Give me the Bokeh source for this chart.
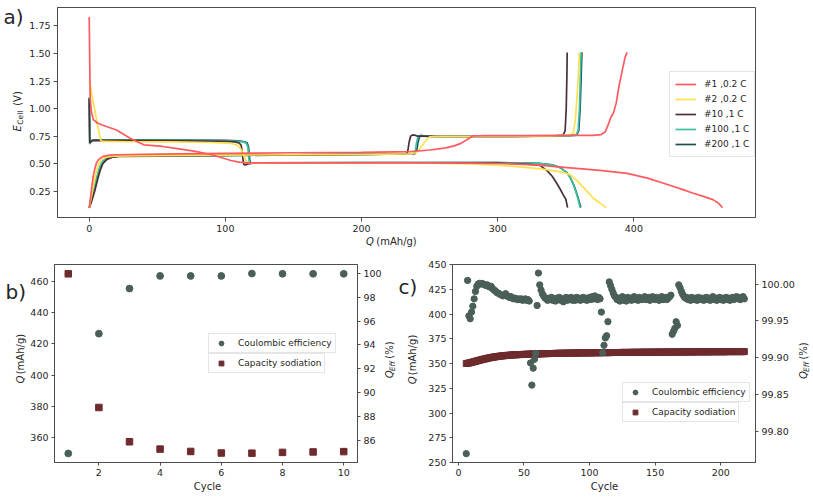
import math
from bokeh.plotting import figure
from bokeh.models import (Range1d, LinearAxis, FixedTicker, Legend, LegendItem, Label,
                          NumeralTickFormatter)
from bokeh.layouts import column, row
from bokeh.embed import file_html
from bokeh.resources import INLINE

# ---------------- data: panel a (potential profiles) ----------------
dis1_Q = [0, 0.3, 0.7, 1.5, 3, 6, 10, 20, 30, 40, 54, 66, 78, 90, 98, 104, 110, 116, 130, 200,
          280, 310, 330, 351, 375, 395, 410, 424, 435, 443, 451, 458, 462, 465]
dis1_E = [1.83, 1.5, 1.1, 0.98, 0.90, 0.87, 0.85, 0.806, 0.732, 0.672, 0.657, 0.635, 0.612, 0.582,
          0.553, 0.53, 0.515, 0.508, 0.508, 0.508, 0.506, 0.50, 0.487, 0.465, 0.44, 0.413, 0.37,
          0.315, 0.27, 0.235, 0.205, 0.175, 0.145, 0.103]
ch1_Q = [0, 1, 2, 3, 4, 5.3, 7, 10.2, 15, 20, 50, 100, 150, 200, 236, 250, 261, 268, 273, 277,
         281.5, 290, 320, 350, 370, 376, 379, 381, 383, 385, 387, 389, 391, 393.5, 395]
ch1_E = [0.10, 0.20, 0.30, 0.39, 0.45, 0.507, 0.54, 0.567, 0.578, 0.582, 0.587, 0.595, 0.60, 0.604,
         0.61, 0.625, 0.642, 0.662, 0.685, 0.715, 0.752, 0.755, 0.755, 0.757, 0.758, 0.765, 0.79,
         0.85, 0.92, 0.96, 1.05, 1.2, 1.32, 1.465, 1.51]

dis2_Q = [0, 1, 2, 4.1, 6, 7.8, 8.5, 10, 30, 60, 90, 100, 105, 108, 110, 112, 114, 115.5, 117, 150,
          200, 250, 280, 302, 320, 336, 347, 353, 358, 362, 366, 370, 375, 379.6]
dis2_E = [1.25, 1.2, 1.12, 0.99, 0.85, 0.75, 0.712, 0.703, 0.70, 0.698, 0.693, 0.688, 0.682, 0.672,
          0.657, 0.62, 0.56, 0.52, 0.509, 0.509, 0.508, 0.505, 0.498, 0.486, 0.467, 0.447, 0.425,
          0.402, 0.35, 0.297, 0.245, 0.19, 0.145, 0.103]
ch2_Q = [0, 1.5, 3, 5, 7, 9, 12, 18, 30, 100, 200, 236, 240, 243, 246, 248, 250, 255, 300, 340,
         352, 355.5, 357, 358.2, 359.2, 360]
ch2_E = [0.10, 0.2, 0.3, 0.42, 0.5, 0.54, 0.56, 0.57, 0.572, 0.578, 0.585, 0.59, 0.60, 0.64, 0.69,
         0.72, 0.745, 0.748, 0.748, 0.752, 0.76, 0.78, 0.9, 1.1, 1.3, 1.51]

dis10_Q = [0, 0.2, 0.4, 1.5, 3, 50, 100, 107, 110, 111.5, 112.5, 113, 113.5, 114.5, 116, 120, 200,
           300, 320, 331, 336, 340, 343, 346, 348, 350, 351.3]
dis10_E = [1.09, 0.9, 0.69, 0.705, 0.712, 0.71, 0.703, 0.698, 0.69, 0.67, 0.6, 0.53, 0.495, 0.49,
           0.497, 0.505, 0.509, 0.506, 0.498, 0.486, 0.44, 0.387, 0.33, 0.267, 0.22, 0.178, 0.103]
ch10_Q = [0, 2, 4, 6, 8, 10, 13, 17, 22, 50, 100, 150, 200, 233, 234, 235, 236, 237.5, 239.5, 241,
          260, 300, 340, 348, 349.5, 350.3, 350.8, 351]
ch10_E = [0.1, 0.17, 0.25, 0.35, 0.44, 0.5, 0.54, 0.56, 0.568, 0.57, 0.575, 0.58, 0.585, 0.59, 0.62,
          0.7, 0.75, 0.762, 0.758, 0.75, 0.748, 0.748, 0.75, 0.76, 0.8, 1.0, 1.3, 1.51]

dis100_Q = [0, 0.2, 0.4, 1.5, 3, 50, 100, 110, 113.5, 115.5, 116.5, 117, 117.5, 118.5, 122, 200, 300,
            330, 340, 346, 351, 353.5, 355.5, 357.3, 359, 360.5]
dis100_E = [1.1, 0.9, 0.68, 0.708, 0.715, 0.714, 0.709, 0.704, 0.697, 0.683, 0.65, 0.58, 0.52, 0.507,
            0.508, 0.51, 0.51, 0.505, 0.49, 0.465, 0.417, 0.37, 0.312, 0.25, 0.178, 0.103]
ch100_Q = [0, 2, 4, 6, 8, 10, 13, 17, 22, 50, 100, 150, 200, 238, 239.5, 240.5, 241.5, 243, 245, 248,
           300, 350, 357.5, 359, 360, 360.7, 361.2]
ch100_E = [0.1, 0.2, 0.3, 0.4, 0.48, 0.525, 0.553, 0.566, 0.57, 0.572, 0.576, 0.58, 0.585, 0.59, 0.62,
           0.7, 0.745, 0.757, 0.752, 0.748, 0.748, 0.752, 0.76, 0.8, 1.0, 1.3, 1.51]

dis200_Q = [0, 0.2, 0.4, 1.5, 3, 50, 100, 110, 114, 116, 117, 117.5, 118, 119, 122, 200, 300, 330,
            340, 346, 351, 353.5, 355.7, 357.5, 359.3, 361]
dis200_E = [1.1, 0.9, 0.68, 0.708, 0.716, 0.716, 0.712, 0.707, 0.7, 0.688, 0.65, 0.58, 0.52, 0.507,
            0.508, 0.51, 0.51, 0.505, 0.49, 0.465, 0.417, 0.37, 0.312, 0.25, 0.178, 0.103]
ch200_Q = [0, 2, 4, 6, 8, 10, 13, 17, 22, 50, 100, 150, 200, 239, 240.5, 241.5, 242.5, 244, 246, 249,
           300, 350, 358, 359.5, 360.5, 361.3, 361.8]
ch200_E = [0.1, 0.19, 0.29, 0.39, 0.47, 0.52, 0.55, 0.565, 0.57, 0.572, 0.576, 0.58, 0.585, 0.59, 0.62,
           0.7, 0.745, 0.757, 0.752, 0.748, 0.748, 0.752, 0.76, 0.8, 1.0, 1.3, 1.51]

cycle_labels = ["#1 ,0.2 C", "#2 ,0.2 C", "#10 ,1 C", "#100 ,1 C", "#200 ,1 C"]
cycle_colors = ["#FF5A5F", "#FFE04F", "#4B3034", "#3DC0A2", "#1A4D4F"]

a_xticks = [0, 100, 200, 300, 400]
a_yticks = [0.25, 0.50, 0.75, 1.00, 1.25, 1.50, 1.75]

# ---------------- data: panel b (first 10 cycles) ----------------
b_cycle = [1, 2, 3, 4, 5, 6, 7, 8, 9, 10]
b_capacity = [464.8, 379.4, 357.5, 352.8, 351.3, 350.3, 350.2, 350.7, 351.0, 351.2]
b_ce = [84.88, 94.95, 98.74, 99.80, 99.80, 99.80, 100.0, 99.98, 99.98, 99.98]
b_xticks = [2, 4, 6, 8, 10]
b_yticks = [360, 380, 400, 420, 440, 460]
b_y2ticks = [86, 88, 90, 92, 94, 96, 98, 100]

# ---------------- data: panel c (long cycling) ----------------
c_cycle = list(range(6, 219))
c_ce = [
    99.770, 100.005, 99.957, 99.953, 99.962, 99.970, 99.980, 99.990, 99.997, 100.000,
    100.001, 100.000, 100.001, 100.000, 99.999, 99.998, 99.999, 99.997, 99.996, 99.997,
    99.994, 99.992, 99.991, 99.989, 99.988, 99.987, 99.986, 99.985, 99.984, 99.985,
    99.987, 99.984, 99.983, 99.982, 99.983, 99.981, 99.980, 99.981, 99.980, 99.979,
    99.980, 99.979, 99.980, 99.978, 99.979, 99.980, 99.978, 99.979, 99.977, 99.893,
    99.863, 99.886, 99.898, 99.906, 99.971, 100.015, 99.999, 99.992, 99.987, 99.984,
    99.981, 99.980, 99.978, 99.981, 99.979, 99.982, 99.978, 99.980, 99.977, 99.981,
    99.979, 99.982, 99.978, 99.980, 99.976, 99.979, 99.982, 99.978, 99.981, 99.979,
    99.982, 99.978, 99.980, 99.978, 99.982, 99.979, 99.981, 99.978, 99.980, 99.982,
    99.979, 99.981, 99.978, 99.980, 99.982, 99.979, 99.983, 99.980, 99.984, 99.981,
    99.979, 99.982, 99.980, 99.962, 99.907, 99.917, 99.927, 99.930, 99.949, 100.003,
    99.998, 99.993, 99.988, 99.984, 99.982, 99.979, 99.981, 99.977, 99.980, 99.983,
    99.978, 99.981, 99.977, 99.982, 99.979, 99.981, 99.978, 99.980, 99.983, 99.979,
    99.981, 99.978, 99.982, 99.980, 99.979, 99.981, 99.983, 99.979, 99.980, 99.982,
    99.978, 99.981, 99.983, 99.980, 99.979, 99.982, 99.980, 99.978, 99.981, 99.983,
    99.979, 99.980, 99.982, 99.979, 99.981, 99.983, 99.985, 99.932, 99.936, 99.940,
    99.949, 99.944, 99.999, 99.995, 99.990, 99.986, 99.983, 99.981, 99.982, 99.979,
    99.981, 99.978, 99.982, 99.980, 99.979, 99.981, 99.978, 99.982, 99.980, 99.979,
    99.981, 99.978, 99.980, 99.982, 99.979, 99.981, 99.978, 99.980, 99.983, 99.979,
    99.981, 99.978, 99.980, 99.982, 99.979, 99.981, 99.978, 99.980, 99.982, 99.979,
    99.981, 99.978, 99.980, 99.982, 99.979, 99.981, 99.983, 99.980, 99.982, 99.979,
    99.981, 99.983, 99.980]
c_capacity = [
    350.0, 350.2, 350.5, 350.8, 351.1, 351.5, 351.8, 352.2, 352.6, 352.9,
    353.3, 353.6, 354.0, 354.3, 354.6, 354.9, 355.2, 355.5, 355.8, 356.0,
    356.3, 356.5, 356.7, 356.9, 357.1, 357.3, 357.5, 357.6, 357.8, 357.9,
    358.0, 358.2, 358.3, 358.4, 358.5, 358.6, 358.7, 358.8, 358.8, 358.9,
    359.0, 359.0, 359.1, 359.2, 359.2, 359.3, 359.3, 359.4, 359.4, 359.5,
    359.5, 359.6, 359.6, 359.7, 359.7, 359.7, 359.8, 359.8, 359.9, 359.9,
    359.9, 360.0, 360.0, 360.0, 360.1, 360.1, 360.1, 360.2, 360.2, 360.2,
    360.3, 360.3, 360.3, 360.3, 360.4, 360.4, 360.4, 360.4, 360.5, 360.5,
    360.5, 360.5, 360.6, 360.6, 360.6, 360.6, 360.6, 360.7, 360.7, 360.7,
    360.7, 360.7, 360.8, 360.8, 360.8, 360.8, 360.8, 360.8, 360.9, 360.9,
    360.9, 360.9, 360.9, 360.9, 361.0, 361.0, 361.0, 361.0, 361.0, 361.0,
    361.0, 361.1, 361.1, 361.1, 361.1, 361.1, 361.1, 361.1, 361.2, 361.2,
    361.2, 361.2, 361.2, 361.2, 361.2, 361.2, 361.3, 361.3, 361.3, 361.3,
    361.3, 361.3, 361.3, 361.3, 361.4, 361.4, 361.4, 361.4, 361.4, 361.4,
    361.4, 361.4, 361.4, 361.5, 361.5, 361.5, 361.5, 361.5, 361.5, 361.5,
    361.5, 361.5, 361.5, 361.6, 361.6, 361.6, 361.6, 361.6, 361.6, 361.6,
    361.6, 361.6, 361.6, 361.6, 361.7, 361.7, 361.7, 361.7, 361.7, 361.7,
    361.7, 361.7, 361.7, 361.7, 361.7, 361.8, 361.8, 361.8, 361.8, 361.8,
    361.8, 361.8, 361.8, 361.8, 361.8, 361.8, 361.8, 361.9, 361.9, 361.9,
    361.9, 361.9, 361.9, 361.9, 361.9, 361.9, 361.9, 361.9, 361.9, 362.0,
    362.0, 362.0, 362.0, 362.0, 362.0, 362.0, 362.0, 362.0, 362.0, 362.0,
    362.0, 362.0, 362.0]
assert len(c_ce) == len(c_cycle) == len(c_capacity)
c_xticks = [0, 50, 100, 150, 200]
c_yticks = [250, 275, 300, 325, 350, 375, 400, 425, 450]
c_y2ticks = [99.80, 99.85, 99.90, 99.95, 100.00]

# ---------------- styling ----------------
FONT = "DejaVu Sans"
TXT = "#262626"
AXC = "#4d4d4d"
CE_COLOR = "#4B5F59"
CAP_COLOR = "#6E2B2E"
FS = "9.5px"
LFS = "10px"
SFS = "7.5px"
V = math.pi / 2


def style_fig(p):
    p.xgrid.visible = False
    p.ygrid.visible = False
    p.outline_line_color = AXC
    p.outline_line_width = 1
    p.background_fill_color = "white"
    p.border_fill_color = "white"


def style_axis(ax, tick_out=4):
    ax.axis_line_color = AXC
    ax.major_tick_line_color = AXC
    ax.major_tick_out = tick_out
    ax.major_tick_in = 0
    ax.minor_tick_line_color = None
    ax.major_label_text_font = FONT
    ax.major_label_text_font_size = FS
    ax.major_label_text_color = TXT
    ax.major_label_standoff = 3


def legend_style(lg, gw, lh, spacing, padding, standoff):
    lg.label_text_font = FONT
    lg.label_text_font_size = "9px"
    lg.label_text_color = TXT
    lg.glyph_width = gw
    lg.glyph_height = lh
    lg.label_height = lh
    lg.spacing = spacing
    lg.padding = padding
    lg.margin = 0
    lg.label_standoff = standoff
    lg.border_line_color = "#cccccc"
    lg.border_line_width = 1
    lg.background_fill_color = "white"
    lg.background_fill_alpha = 0.85


def strip(x0, x1, y0, y1):
    """A bare figure whose frame spans page pixels x0..x1, y0..y1 (data = page px)."""
    s = figure(width=x1 - x0, height=y1 - y0, output_backend="svg", toolbar_location=None,
               x_range=Range1d(x0, x1), y_range=Range1d(y1, y0),
               x_axis_location=None, y_axis_location=None,
               min_border_left=0, min_border_right=0, min_border_top=0, min_border_bottom=0)
    s.grid.visible = False
    s.outline_line_color = None
    s.background_fill_color = "white"
    s.border_fill_color = "white"
    return s


def lab(s, x, y, text, size=LFS, angle=0.0, align="center", italic=False):
    s.add_layout(Label(x=x, y=y, text=text, text_font=FONT, text_font_size=size,
                       text_font_style="italic" if italic else "normal",
                       text_color=TXT, angle=angle, text_align=align,
                       text_baseline="middle"))


# ---------------- panel a ----------------
pa = figure(width=784, height=235, output_backend="svg", toolbar_location=None,
            x_range=Range1d(-23.3, 489.3), y_range=Range1d(0.013, 1.917),
            min_border_left=29, min_border_right=55, min_border_top=7, min_border_bottom=18)
style_fig(pa)
style_axis(pa.xaxis[0])
style_axis(pa.yaxis[0])
pa.xaxis.ticker = FixedTicker(ticks=a_xticks)
pa.yaxis.ticker = FixedTicker(ticks=a_yticks)
pa.yaxis.formatter = NumeralTickFormatter(format="0.00")

curves = [(dis1_Q, dis1_E, ch1_Q, ch1_E), (dis2_Q, dis2_E, ch2_Q, ch2_E),
          (dis10_Q, dis10_E, ch10_Q, ch10_E), (dis100_Q, dis100_E, ch100_Q, ch100_E),
          (dis200_Q, dis200_E, ch200_Q, ch200_E)]
rend = {}
for i in [4, 3, 2, 1, 0]:
    dq, de, cq, ce = curves[i]
    r = pa.line(dq, de, line_color=cycle_colors[i], line_width=1.7)
    pa.line(cq, ce, line_color=cycle_colors[i], line_width=1.7)
    rend[i] = r
lga = Legend(items=[LegendItem(label=cycle_labels[i], renderers=[rend[i]]) for i in range(5)],
             location=(612, 60))
legend_style(lga, 21, 14, 1, 5, 8)
pa.add_layout(lga)

sa_left = strip(0, 26, 0, 250)
lab(sa_left, 3, 16, "a)", size="20px", align="left")
lab(sa_left, 16.5, 127.9, "E", angle=V, italic=True)
lab(sa_left, 19.5, 117.2, "Cell", size=SFS, angle=V)
lab(sa_left, 16.5, 98.0, "(V)", angle=V)

sa_bot = strip(26, 810, 235, 250)
lab(sa_bot, 377, 241, "Q", italic=True)
lab(sa_bot, 406.8, 241, "(mAh/g)")

# ---------------- panel b ----------------
pb = figure(width=357, height=231, output_backend="svg", toolbar_location=None,
            x_range=Range1d(0.55, 10.45), y_range=Range1d(344.25, 470.75),
            min_border_left=26, min_border_right=23, min_border_top=13, min_border_bottom=19)
pb.extra_y_ranges = {"eff": Range1d(84.12, 100.76)}
pb.add_layout(LinearAxis(y_range_name="eff"), "right")
style_fig(pb)
for ax in pb.xaxis + pb.yaxis:
    style_axis(ax, tick_out=3)
pb.xaxis.ticker = FixedTicker(ticks=b_xticks)
pb.yaxis[0].ticker = FixedTicker(ticks=b_yticks)
pb.yaxis[1].ticker = FixedTicker(ticks=b_y2ticks)
rb_cap = pb.scatter(b_cycle, b_capacity, marker="square", size=6.5, fill_color=CAP_COLOR,
                    line_color=CAP_COLOR)
rb_ce = pb.scatter(b_cycle, b_ce, marker="circle", size=6.8, fill_color=CE_COLOR,
                   line_color=CE_COLOR, y_range_name="eff")
lgb1 = Legend(items=[LegendItem(label="Coulombic efficiency", renderers=[rb_ce])],
              location=(154, 109))
lgb2 = Legend(items=[LegendItem(label="Capacity sodiation", renderers=[rb_cap])],
              location=(154, 89))
for lg in (lgb1, lgb2):
    legend_style(lg, 18, 12, 0, 3, 8)
    pb.add_layout(lg)

# ---------------- panel c ----------------
pc = figure(width=372, height=231, output_backend="svg", toolbar_location=None,
            x_range=Range1d(-4.5, 226.5), y_range=Range1d(250, 450),
            min_border_left=25, min_border_right=39, min_border_top=14, min_border_bottom=18)
pc.extra_y_ranges = {"eff": Range1d(99.758, 100.0266)}
pc.add_layout(LinearAxis(y_range_name="eff"), "right")
style_fig(pc)
for ax in pc.xaxis + pc.yaxis:
    style_axis(ax, tick_out=3)
pc.xaxis.ticker = FixedTicker(ticks=c_xticks)
pc.yaxis[0].ticker = FixedTicker(ticks=c_yticks)
pc.yaxis[1].ticker = FixedTicker(ticks=c_y2ticks)
pc.yaxis[1].formatter = NumeralTickFormatter(format="0.00")
rc_cap = pc.scatter(c_cycle, c_capacity, marker="square", size=6, fill_color=CAP_COLOR,
                    line_color=CAP_COLOR)
rc_ce = pc.scatter(c_cycle, c_ce, marker="circle", size=6.3, fill_color=CE_COLOR,
                   line_color=CE_COLOR, y_range_name="eff")
lgc1 = Legend(items=[LegendItem(label="Coulombic efficiency", renderers=[rc_ce])],
              location=(170, 60))
lgc2 = Legend(items=[LegendItem(label="Capacity sodiation", renderers=[rc_cap])],
              location=(170, 40))
for lg in (lgc1, lgc2):
    legend_style(lg, 18, 12, 0, 3, 8)
    pc.add_layout(lg)

# ---------------- text strips around panels b and c ----------------
sb_left = strip(0, 27, 250, 481)
lab(sb_left, 5, 282, "b)", size="20px", align="left")
lab(sb_left, 20, 384.2, "Q", angle=V, italic=True)
lab(sb_left, 20, 354.5, "(mAh/g)", angle=V)

s_mid = strip(384, 425, 250, 481)
lab(s_mid, 388.5, 378, "Q", angle=V, italic=True)
lab(s_mid, 391.5, 368.6, "Eff", size=SFS, angle=V, italic=True)
lab(s_mid, 388.5, 349.8, "(%)", angle=V)
lab(s_mid, 398, 276, "c)", size="20px", align="left")
lab(s_mid, 411.5, 385.2, "Q", angle=V, italic=True)
lab(s_mid, 411.5, 355.5, "(mAh/g)", angle=V)

sc_right = strip(797, 810, 250, 481)
lab(sc_right, 802.5, 379, "Q", angle=V, italic=True)
lab(sc_right, 805.5, 369.6, "Eff", size=SFS, angle=V, italic=True)
lab(sc_right, 802.5, 350.8, "(%)", angle=V)

s_bot = strip(0, 810, 481, 500)
lab(s_bot, 207, 485.5, "Cycle")
lab(s_bot, 604, 485.5, "Cycle")

layout = column(
    row(sa_left, column(pa, sa_bot)),
    column(row(sb_left, pb, s_mid, pc, sc_right), s_bot),
)
open("out.html", "w").write(file_html(layout, INLINE))
